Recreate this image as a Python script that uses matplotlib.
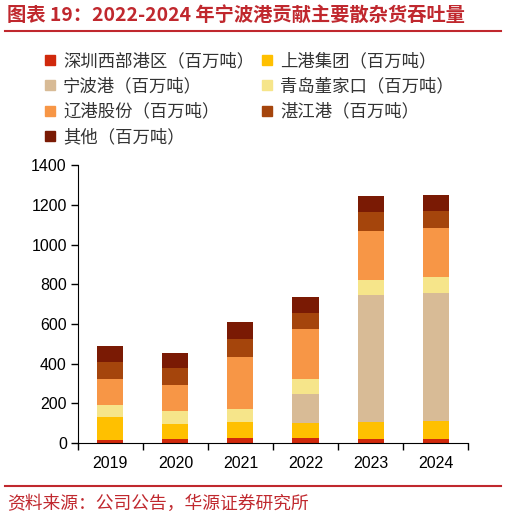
import numpy as np
import matplotlib.pyplot as plt
from matplotlib.lines import Line2D

plt.rcParams['font.family'] = ['Noto Sans CJK SC', 'DejaVu Sans']

years = ['2019', '2020', '2021', '2022', '2023', '2024']
shenzhen = [15, 22, 25, 25, 22, 22]
shanggang = [115, 74, 81, 78, 82, 87]
ningbo = [0, 0, 0, 146, 641, 649]
qingdao = [60, 64, 66, 74, 77, 79]
liaogang = [131, 133, 260, 252, 248, 249]
zhanjiang = [89, 87, 93, 82, 94, 86]
qita = [79, 72, 85, 78, 82, 79]

series = [
    ('深圳西部港区（百万吨）', shenzhen, '#d0290c'),
    ('上港集团（百万吨）', shanggang, '#ffc000'),
    ('宁波港（百万吨）', ningbo, '#d8bb96'),
    ('青岛董家口（百万吨）', qingdao, '#f6e58a'),
    ('辽港股份（百万吨）', liaogang, '#f79646'),
    ('湛江港（百万吨）', zhanjiang, '#a5450c'),
    ('其他（百万吨）', qita, '#7a1a04'),
]

red = '#c0282e'

fig = plt.figure(figsize=(5.06, 5.20), dpi=100)
ax = fig.add_axes([0.154, 0.148, 0.771, 0.534])

x = np.arange(len(years))
bottom = np.zeros(len(years))
for name, vals, col in series:
    ax.bar(x, vals, width=0.4, bottom=bottom, color=col, label=name)
    bottom += np.array(vals)

ax.set_xlim(-0.5, len(years) - 0.5)
ax.set_ylim(0, 1400)
ax.set_yticks(range(0, 1401, 200))
# ticks sit between the categories, labels in the middle
ax.set_xticks(np.arange(-0.5, len(years), 1.0))
ax.set_xticklabels([])
ax.set_xticks(x, minor=True)
ax.set_xticklabels(years, minor=True, fontsize=11.5, family='Liberation Sans')
ax.tick_params(axis='x', which='minor', length=0, pad=9)
ax.tick_params(axis='x', which='major', length=5, direction='out', width=1)
ax.tick_params(axis='y', length=5, width=1, labelsize=11.5, pad=3)
for lab in ax.get_yticklabels():
    lab.set_family('Liberation Sans')
ax.spines['top'].set_visible(False)
ax.spines['right'].set_visible(False)

order = [0, 2, 4, 6, 1, 3, 5]
handles = [Line2D([], [], marker='s', linestyle='', markersize=6.5,
                  markerfacecolor=series[i][2], markeredgecolor=series[i][2])
           for i in order]
labels = [series[i][0] for i in order]
fig.legend(handles, labels, ncol=2, loc='upper left', bbox_to_anchor=(0.057, 0.93),
           frameon=False, fontsize=12.5, handlelength=0.6, handletextpad=0.48,
           columnspacing=0.42, labelspacing=0.42, labelcolor='#333333')

fig.text(0.014, 0.971, '图表 19：2022-2024 年宁波港贡献主要散杂货吞吐量',
         color=red, fontsize=13.9, fontweight='bold', va='center', ha='left')
fig.add_artist(Line2D([0.01, 0.99], [0.94, 0.94], color=red, lw=1.5))
fig.add_artist(Line2D([0.01, 0.99], [0.065, 0.065], color=red, lw=1.5))
fig.text(0.014, 0.031, '资料来源：公司公告，华源证券研究所',
         color=red, fontsize=12.8, va='center', ha='left')

fig.savefig('out.png', dpi=100)
